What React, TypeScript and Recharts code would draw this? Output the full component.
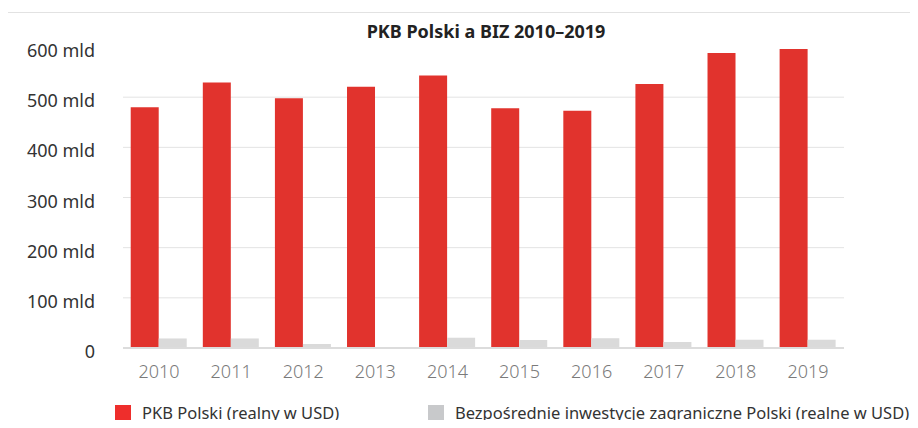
import { Bar, BarChart, CartesianGrid, Legend, XAxis, YAxis } from "recharts"

const years = ["2010", "2011", "2012", "2013", "2014", "2015", "2016", "2017", "2018", "2019"]
const pkb = [480, 529, 498, 521, 543, 478, 473, 526, 588, 596]
const biz = [19, 19, 8, 1, 20.5, 16, 19.5, 12, 16.5, 16.5]
const yTicks = [0, 100, 200, 300, 400, 500, 600]

const font = "'Noto Sans', 'Open Sans', sans-serif"

const legendColors: Record<string, string> = {
  pkb: "#ee2e2c",
  biz: "#c8c9cb",
}
// legend item x positions, keyed by series
const legendLeft: Record<string, number> = {
  pkb: 115,
  biz: 428,
}

function YTick(props: any) {
  const { x, y, payload } = props
  const label = payload.value === 0 ? "0" : `${payload.value} mld`
  return (
    <text x={x} y={y} dy={10} textAnchor="end" fill="#333" fontSize={18} fontFamily={font}>
      {label}
    </text>
  )
}

function LegendContent(props: any) {
  const { payload } = props
  return (
    <div style={{ position: "relative", height: 32, fontFamily: font, fontSize: 16.5, color: "#333" }}>
      {(payload || []).map((entry: any) => (
        <div
          key={entry.dataKey}
          style={{
            position: "absolute",
            left: legendLeft[entry.dataKey],
            top: 5,
            display: "flex",
            alignItems: "center",
            whiteSpace: "nowrap",
          }}
        >
          <span
            style={{
              display: "inline-block",
              width: 16,
              height: 16,
              background: legendColors[entry.dataKey],
              marginRight: 11,
            }}
          />
          <span>{entry.value}</span>
        </div>
      ))}
    </div>
  )
}

export default function App() {
  const data = years.map((year, i) => ({ year, pkb: pkb[i], biz: biz[i] }))

  return (
    <div style={{ position: "relative", margin: -8, width: 918, height: 428, overflow: "hidden", background: "#fff" }}>
      <div
        style={{
          position: "absolute",
          left: 7,
          top: 12,
          width: 1000,
          height: 500,
          border: "1px solid #e2e2e2",
        }}
      />
      <div
        style={{
          position: "absolute",
          left: 0,
          width: 972,
          top: 19,
          textAlign: "center",
          fontFamily: font,
          fontWeight: 700,
          fontSize: 18,
          color: "#222",
        }}
      >
        PKB Polski a BIZ 2010–2019
      </div>
      <div style={{ position: "absolute", left: 0, top: 0 }}>
        <BarChart
          width={918}
          height={428}
          data={data}
          margin={{ top: 47, right: 74, left: 0, bottom: 0 }}
          barCategoryGap="10.7%"
          barGap={0}
        >
          <CartesianGrid vertical={false} stroke="#e3e3e3" horizontalValues={[100, 200, 300, 400, 500]} />
          <XAxis
            dataKey="year"
            height={48}
            tickLine={false}
            tickSize={0}
            tickMargin={17}
            axisLine={{ stroke: "#dcdcdc", strokeWidth: 2 }}
            tick={{ fill: "#7a7a7a", fontSize: 18, fontFamily: font, fontWeight: 300 }}
          />
          <YAxis
            width={123}
            domain={[0, 600]}
            ticks={yTicks}
            axisLine={false}
            tickLine={false}
            tickSize={0}
            tickMargin={28}
            tick={<YTick />}
          />
          <Legend verticalAlign="bottom" height={32} content={<LegendContent />} />
          <Bar dataKey="pkb" name="PKB Polski (realny w USD)" fill="#e1332d" isAnimationActive={false} />
          <Bar
            dataKey="biz"
            name="Bezpośrednie inwestycje zagraniczne Polski (realne w USD)"
            fill="#dadada"
            isAnimationActive={false}
          />
        </BarChart>
      </div>
    </div>
  )
}
